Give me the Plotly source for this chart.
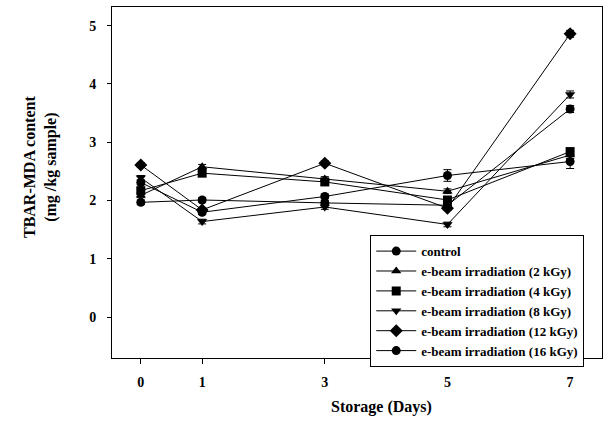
import plotly.graph_objects as go

days = [0, 1, 3, 5, 7]
series_names = ["control", "e-beam irradiation (2 kGy)", "e-beam irradiation (4 kGy)",
                "e-beam irradiation (8 kGy)", "e-beam irradiation (12 kGy)", "e-beam irradiation (16 kGy)"]
control = [2.31, 1.80, 2.07, 2.43, 2.67]
kgy2 = [2.09, 2.58, 2.37, 2.16, 2.78]
kgy4 = [2.17, 2.47, 2.32, 2.01, 2.84]
kgy8 = [2.39, 1.64, 1.89, 1.59, 3.82]
kgy12 = [2.61, 1.84, 2.64, 1.87, 4.86]
kgy16 = [1.97, 2.01, 1.96, 1.92, 3.57]
err_control = [0.04, 0.04, 0.04, 0.10, 0.12]
err_small = [0.04, 0.04, 0.04, 0.04, 0.06]
symbols = ["circle", "triangle-up", "square", "triangle-down", "diamond", "circle"]
values = [control, kgy2, kgy4, kgy8, kgy12, kgy16]
errors = [err_control, err_small, err_small, err_small, err_small, err_small]

FONT = "Liberation Serif"
fig = go.Figure()
for name, vals, sym, err in zip(series_names, values, symbols, errors):
    fig.add_trace(go.Scatter(
        x=days, y=vals, name=name, mode="lines+markers",
        line=dict(color="black", width=1),
        marker=dict(symbol=sym, size=9 if sym != "diamond" else 10, color="black"),
        error_y=dict(type="data", array=err, color="black", thickness=1, width=4),
    ))

L, R, T, B = 112, 4, 7, 77
fig.update_layout(
    width=606, height=435,
    margin=dict(l=L, r=R, t=T, b=B),
    paper_bgcolor="white", plot_bgcolor="white",
    font=dict(family=FONT, color="black"),
    showlegend=True,
    legend=dict(x=0.527, y=0.35, xanchor="left", yanchor="top",
                bgcolor="white", bordercolor="black", borderwidth=1,
                font=dict(family=FONT, size=13, color="black", weight="bold"),
                tracegroupgap=0, itemwidth=40),
)
fig.update_xaxes(range=[-0.47, 7.52], tickvals=days, ticktext=[f"<b>{d}</b>" for d in days],
                 showline=True, linecolor="black", linewidth=1, mirror=True,
                 ticks="outside", ticklen=5, tickcolor="black", showgrid=False, zeroline=False,
                 tickfont=dict(size=14, family=FONT), ticklabelstandoff=6)
fig.update_yaxes(range=[-0.70, 5.32], tickvals=[0, 1, 2, 3, 4, 5],
                 ticktext=[f"<b>{v}</b>" for v in [0, 1, 2, 3, 4, 5]],
                 showline=True, linecolor="black", linewidth=1, mirror=True,
                 ticks="outside", ticklen=4, tickcolor="black", showgrid=False, zeroline=False,
                 tickfont=dict(size=14, family=FONT), ticklabelstandoff=8)

fig.add_annotation(text="<b>Storage (Days)</b>", xref="paper", yref="paper",
                   x=0.549, y=-0.14, yanchor="middle", xanchor="center", showarrow=False,
                   font=dict(size=16, family=FONT))
fig.add_annotation(text="<b>TBAR-MDA content<br>(mg /kg sample)</b>", xref="paper", yref="paper",
                   x=-0.147, y=0.544, xanchor="center", yanchor="middle", showarrow=False,
                   textangle=-90, font=dict(size=16, family=FONT))

fig.write_html("out.html")
